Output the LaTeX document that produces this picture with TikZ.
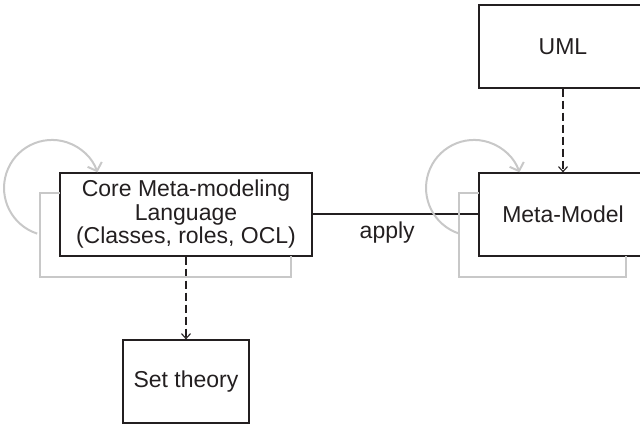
\documentclass[tikz,border=0pt]{standalone}
\usepackage{fontspec}
\setmainfont{Liberation Sans}
\usetikzlibrary{arrows.meta}
\definecolor{ink}{HTML}{231F20}
\definecolor{loopgray}{HTML}{C8C8C8}
\tikzset{
  box/.style={draw=ink, line width=1.2pt, text=ink, inner sep=0pt, align=center,
    font=\fontsize{23}{23.5}\selectfont},
  dep/.style={draw=ink, line width=1.1pt, dash pattern=on 8pt off 4pt,
    -{Straight Barb[length=5pt,width=9pt,line width=1.1pt]}},
  link/.style={draw=ink, line width=1.1pt},
  loopline/.style={draw=loopgray, line width=2pt},
  looparrow/.style={loopline, -{Straight Barb[length=7pt,width=15pt,line width=2pt]}},
  lbl/.style={text=ink, font=\fontsize{23}{23.5}\selectfont, inner sep=0pt}
}
\begin{document}
\begin{tikzpicture}[x=1pt,y=-1pt]
\useasboundingbox (0,0) rectangle (640,424);
\clip (0,0) rectangle (640,424);
% boxes
\node[box, minimum width=252pt, minimum height=83pt] (core) at (186,214.5)
  {Core Meta-modeling\\Language\\(Classes, roles, OCL)};
\node[box, minimum width=168pt, minimum height=83pt] (meta) at (563,214.5) {Meta-Model};
\node[box, minimum width=168pt, minimum height=83pt] (uml) at (563,46.5) {UML};
\node[box, minimum width=126pt, minimum height=83pt] (set) at (186,381.5) {Set theory};
% connectors
\draw[link] (core.east |- 0,214) -- node[lbl, pos=0.45, below=7pt] (applylbl) {apply} (meta.west |- 0,214);
\draw[dep] (uml.south) -- (meta.north);
\draw[dep] (core.south) -- (set.north);
% gray self loops: core
\coordinate (cl0) at (37.2,233.6);
\draw[looparrow] (cl0) arc[start angle=252, end angle=19, radius=48pt];
\coordinate (cb0) at (60,193);
\coordinate (cb1) at (40,193);
\coordinate (cb2) at (40,277);
\coordinate (cb3) at (291,277);
\coordinate (cb4) at (291,256);
\draw[loopline] (cb0) -- (cb1) -- (cb2) -- (cb3) -- (cb4);
% gray self loops: meta
\coordinate (ml0) at (459.2,233.6);
\draw[looparrow] (ml0) arc[start angle=252, end angle=19, radius=48pt];
\coordinate (mb0) at (479,193);
\coordinate (mb1) at (459,193);
\coordinate (mb2) at (459,277);
\coordinate (mb3) at (626,277);
\coordinate (mb4) at (626,256);
\draw[loopline] (mb0) -- (mb1) -- (mb2) -- (mb3) -- (mb4);
\end{tikzpicture}
\end{document}
